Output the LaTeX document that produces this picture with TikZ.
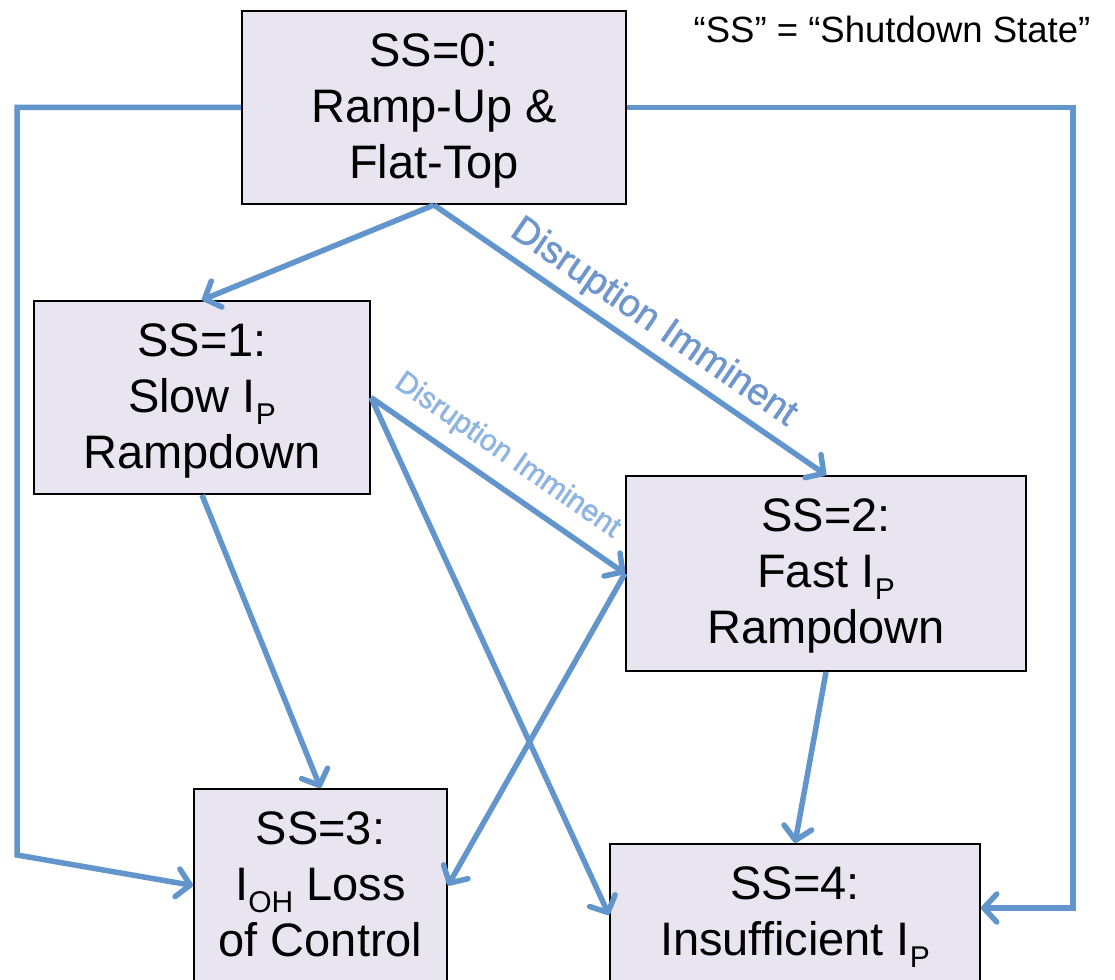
\documentclass[tikz,border=0pt]{standalone}
\usepackage{fontspec}
\setmainfont{Liberation Sans}
\newfontfamily\biglabelfont[FakeBold=1.2]{Liberation Sans}
\newfontfamily\smalllabelfont[FakeBold=1.6]{Liberation Sans}
\usetikzlibrary{arrows.meta}
\definecolor{boxfill}{RGB}{232,228,240}
\definecolor{arrowblue}{RGB}{98,149,204}
\definecolor{labelblue}{RGB}{141,180,226}
\definecolor{labeldark}{RGB}{110,150,205}
\newcommand\lowsub[1]{\raisebox{-12pt}{\fontsize{30}{30}\selectfont #1}}
\begin{document}
\begin{tikzpicture}[x=1pt,y=-1pt,
  statebox/.style={draw=black, line width=2pt, fill=boxfill, rectangle, inner sep=0pt},
  statetext/.style={anchor=north, inner sep=0pt, align=center, font=\fontsize{47}{56.4}\selectfont},
  conn/.style={draw=arrowblue, line width=5.5pt, -{Straight Barb[round,length=13pt,width=28pt]}},
  biglabel/.style={sloped, inner sep=0pt, text=labeldark, font=\biglabelfont\fontsize{38}{38}\selectfont},
  smalllabel/.style={sloped, inner sep=0pt, text=labelblue, font=\smalllabelfont\fontsize{30}{30}\selectfont}
]
\useasboundingbox (0,0) rectangle (1115,979);
\clip (0,0) rectangle (1115,979);
\fill[white] (0,0) rectangle (1115,979);

% boxes
\node[statebox, minimum width=384pt, minimum height=193pt] (b0) at (434,107.5) {};
\node[statebox, minimum width=336pt, minimum height=193pt] (b1) at (202,397.5) {};
\node[statebox, minimum width=400pt, minimum height=195pt] (b2) at (826,573.5) {};
\node[statebox, minimum width=253pt, minimum height=193pt] (b3) at (320.5,885.5) {};
\node[statebox, minimum width=370pt, minimum height=200pt] (b4) at (795,944) {};

% texts
\node[statetext] (t0) at ([yshift=-23pt]b0.north) {SS=0:\\Ramp-Up \&\\Flat-Top};
\node[statetext] (t1) at ([yshift=-23pt]b1.north) {SS=1:\\Slow I\lowsub{P}\\Rampdown};
\node[statetext] (t2) at ([yshift=-23pt]b2.north) {SS=2:\\Fast I\lowsub{P}\\Rampdown};
\node[statetext] (t3) at ([yshift=-23pt]b3.north) {SS=3:\\I\lowsub{OH} Loss\\of Control};
\node[statetext] (t4) at ([yshift=-23pt]b4.north) {SS=4:\\Insufficient I\lowsub{P}};

\node[anchor=base, inner sep=0pt, font=\fontsize{36.5}{40}\selectfont] (legend) at (892,43) {“SS” = “Shutdown State”};

% connectors
\coordinate (cl1) at (17,107.5);
\coordinate (cl2) at (17,855);
\coordinate (cr1) at (1073,107.5);
\coordinate (cr2) at (1073,908);

\draw[conn] (b0.south) -- (b1.north);
\draw[conn] (b0.south) -- node[biglabel, above=7pt, pos=0.52] (lab1) {Disruption Imminent} (b2.north);
\draw[conn] (b1.east) -- node[smalllabel, above=13pt, pos=0.47] (lab2) {Disruption Imminent} (b2.west);
\draw[conn] (b1.east) -- ([yshift=29pt]b4.west);
\draw[conn] (b1.south) -- (b3.north);
\draw[conn] (b2.west) -- (b3.east);
\draw[conn] (b2.south) -- (b4.north);
\draw[conn] (b0.west) -- (cl1) -- (cl2) -- (b3.west);
\draw[conn] (b0.east) -- (cr1) -- (cr2) -- ([yshift=36pt]b4.east);
\end{tikzpicture}
\end{document}
